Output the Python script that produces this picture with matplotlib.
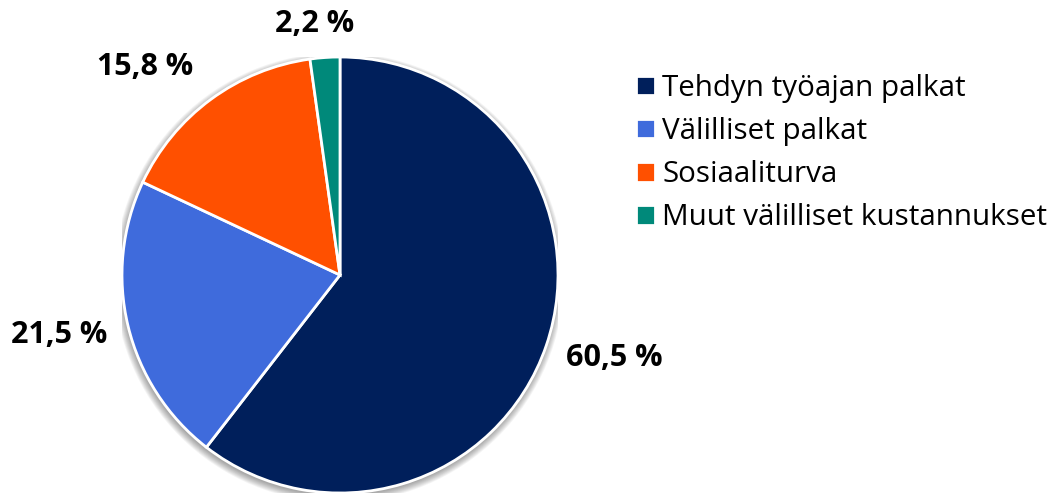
import numpy as np
import matplotlib.pyplot as plt
from matplotlib.patches import Circle

plt.rcParams['font.family'] = ['Open Sans', 'DejaVu Sans']

# Data
categories = ["Tehdyn työajan palkat", "Välilliset palkat",
              "Sosiaaliturva", "Muut välilliset kustannukset"]
shares = [60.5, 21.5, 15.8, 2.2]
colors = ["#001f5b", "#3f6bdc", "#ff5000", "#00897a"]
# label placement: radius (in pie radii) and angular nudge (deg)
label_dist = [1.316, 1.318, 1.305, 1.157]
label_nudge = [2.1, -1.5, 6.8, 1.8]

W, H = 1054, 494
fig = plt.figure(figsize=(W / 100, H / 100), dpi=100)
cx, cy, r = 340, 275, 218
ax = fig.add_axes([(cx - r) / W, (H - cy - r) / H, 2 * r / W, 2 * r / H])

# soft shadow behind the pie
for k in range(10):
    ax.add_patch(Circle((-0.004, -0.012), 1.0 + 0.0035 * k, fc="0.1",
                        ec="none", alpha=0.045, zorder=0))

wedges, _ = ax.pie(shares, colors=colors, startangle=90, counterclock=False,
                   radius=1.0, wedgeprops=dict(ec="white", lw=2))
for w in wedges:
    w.set_zorder(2)
ax.set_xlim(-1, 1)
ax.set_ylim(-1, 1)
ax.set_aspect("equal")
ax.axis("off")

for w, val, d, nd in zip(wedges, shares, label_dist, label_nudge):
    th = np.deg2rad((w.theta1 + w.theta2) / 2 + nd)
    ax.text(d * np.cos(th), d * np.sin(th), f"{val:.1f} %".replace(".", ","),
            ha="center", va="center", fontsize=22, fontweight="bold",
            color="black", clip_on=False)

fig.legend(wedges, categories, loc="upper left",
           bbox_to_anchor=(624 / W, 1 - 62 / H), frameon=False,
           fontsize=21.3, handlelength=0.64, handleheight=0.64,
           handletextpad=0.26, labelspacing=0.48, borderaxespad=0)

fig.savefig("out.png", dpi=100)
